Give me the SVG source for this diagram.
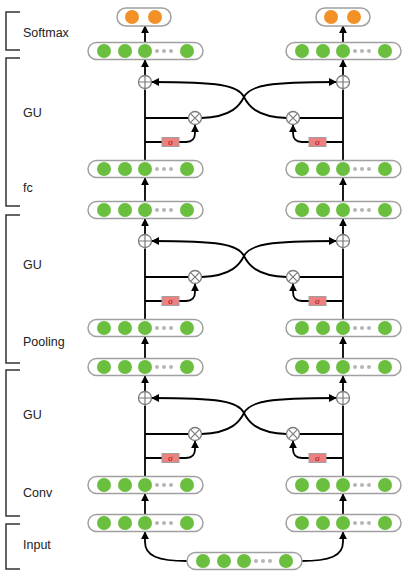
<svg xmlns="http://www.w3.org/2000/svg" xmlns:xlink="http://www.w3.org/1999/xlink" width="407" height="575" viewBox="0 0 407 575">
<style>
.pill{fill:#fff;stroke:#a0a0a0;stroke-width:1.5}
.g{fill:#6abf3f}
.o{fill:#f29126}
.d{fill:#b5b5b5}
.op{fill:#fff;stroke:#7a7a7a;stroke-width:1.3}
.opl{stroke:#7a7a7a;stroke-width:1.2;fill:none}
.sig{fill:#ee8080;stroke:#a0a0a0;stroke-width:1}
.sigt{font-family:"Liberation Serif","DejaVu Serif",serif;font-size:9px;fill:#a01010;text-anchor:middle}
.c{fill:none;stroke:#000;stroke-width:1.8}
.ca{fill:none;stroke:#000;stroke-width:1.8;marker-end:url(#ah)}
.br{fill:none;stroke:#333;stroke-width:1.5}
.lbl{font-family:"Liberation Sans",Arial,sans-serif;font-size:12.5px;fill:#222}
</style>
<defs>
<marker id="ah" viewBox="0 0 10 10" refX="9" refY="5" markerWidth="8" markerHeight="8" markerUnits="userSpaceOnUse" orient="auto">
<path d="M0,0 L10,5 L0,10 z" fill="#000"/>
</marker>
<g id="p5">
<rect class="pill" x="-57" y="-8.5" width="115" height="17" rx="8.5"/>
<circle class="g" cx="-41" cy="0" r="7"/>
<circle class="g" cx="-20" cy="0" r="7"/>
<circle class="g" cx="0" cy="0" r="7"/>
<circle class="d" cx="12" cy="0" r="2"/>
<circle class="d" cx="19" cy="0" r="2"/>
<circle class="d" cx="26" cy="0" r="2"/>
<circle class="g" cx="42" cy="0" r="7"/>
</g>
<g id="p2">
<rect class="pill" x="-27" y="-9" width="54" height="18" rx="9"/>
<circle class="o" cx="-12" cy="0" r="7"/>
<circle class="o" cx="11" cy="0" r="7"/>
</g>
<g id="plus">
<circle class="op" cx="0" cy="0" r="6.5"/>
<path class="opl" d="M-6.5,0 H6.5 M0,-6.5 V6.5"/>
</g>
<g id="times">
<circle class="op" cx="0" cy="0" r="6.5"/>
<path class="opl" d="M-4.6,-4.6 L4.6,4.6 M-4.6,4.6 L4.6,-4.6"/>
</g>
<g id="sigma">
<rect class="sig" x="-8.5" y="-4.5" width="17" height="9"/>
<text class="sigt" x="0" y="3">σ</text>
</g>
</defs>

<g id="labels">
<path class="br" d="M20,12 H6 V50 H20"/>
<path class="br" d="M20,58 H6 V206 H20"/>
<path class="br" d="M20,215 H6 V363 H20"/>
<path class="br" d="M20,370 H6 V516 H20"/>
<path class="br" d="M20,524 H6 V569 H20"/>
<text class="lbl" x="23" y="37">Softmax</text>
<text class="lbl" x="23" y="117">GU</text>
<text class="lbl" x="23" y="192">fc</text>
<text class="lbl" x="23" y="269">GU</text>
<text class="lbl" x="23" y="346">Pooling</text>
<text class="lbl" x="23" y="419">GU</text>
<text class="lbl" x="23" y="497">Conv</text>
<text class="lbl" x="23" y="549">Input</text>
</g>

<g id="connectors">
<!-- softmax arrows -->
<path class="ca" d="M145,42.5 V26"/>
<path class="ca" d="M343,42.5 V26"/>
<!-- block 1 T=51 -->
<path class="c" d="M145,160.5 V89.5 M145,118 H188.5 M145,142 H162"/>
<path class="ca" d="M145,75.5 V60"/>
<path class="ca" d="M179,142 H186 Q195,142 195,133 V125"/>
<path class="ca" d="M201.5,118 C232,117 240,105 244,97 C250,85 270,82 336,82"/>
<path class="c" d="M343,160.5 V89.5 M343,118 H299.5 M343,142 H326"/>
<path class="ca" d="M343,75.5 V60"/>
<path class="ca" d="M309,142 H302 Q293,142 293,133 V125"/>
<path class="ca" d="M286.5,118 C256,117 248,105 244,97 C238,85 218,82 152,82"/>
<!-- inter-block -->
<path class="ca" d="M145,201.5 V178"/>
<path class="ca" d="M343,201.5 V178"/>
<!-- block 2 T=210 -->
<path class="c" d="M145,319.5 V248.5 M145,277 H188.5 M145,301 H162"/>
<path class="ca" d="M145,234.5 V219"/>
<path class="ca" d="M179,301 H186 Q195,301 195,292 V284"/>
<path class="ca" d="M201.5,277 C232,276 240,264 244,256 C250,244 270,241 336,241"/>
<path class="c" d="M343,319.5 V248.5 M343,277 H299.5 M343,301 H326"/>
<path class="ca" d="M343,234.5 V219"/>
<path class="ca" d="M309,301 H302 Q293,301 293,292 V284"/>
<path class="ca" d="M286.5,277 C256,276 248,264 244,256 C238,244 218,241 152,241"/>
<!-- inter-block -->
<path class="ca" d="M145,358.5 V337"/>
<path class="ca" d="M343,358.5 V337"/>
<!-- block 3 T=367 -->
<path class="c" d="M145,476.5 V405.5 M145,434 H188.5 M145,458 H162"/>
<path class="ca" d="M145,391.5 V376"/>
<path class="ca" d="M179,458 H186 Q195,458 195,449 V441"/>
<path class="ca" d="M201.5,434 C232,433 240,421 244,413 C250,401 270,398 336,398"/>
<path class="c" d="M343,476.5 V405.5 M343,434 H299.5 M343,458 H326"/>
<path class="ca" d="M343,391.5 V376"/>
<path class="ca" d="M309,458 H302 Q293,458 293,449 V441"/>
<path class="ca" d="M286.5,434 C256,433 248,421 244,413 C238,401 218,398 152,398"/>
<!-- conv arrows -->
<path class="ca" d="M145,514.5 V494"/>
<path class="ca" d="M343,514.5 V494"/>
<!-- input arrows -->
<path class="ca" d="M187,561 C158,561 145,556 145,542 V532"/>
<path class="ca" d="M301,561 C330,561 343,556 343,542 V532"/>
</g>

<g id="softmax-l"><use xlink:href="#p2" x="144" y="17"/></g>
<g id="softmax-r"><use xlink:href="#p2" x="343" y="17"/></g>

<g id="gu1-out-l"><use xlink:href="#p5" x="145" y="51"/></g>
<g id="gu1-out-r"><use xlink:href="#p5" x="343" y="51"/></g>
<g id="gu1-plus-l"><use xlink:href="#plus" x="145" y="82"/></g>
<g id="gu1-plus-r"><use xlink:href="#plus" x="343" y="82"/></g>
<g id="gu1-times-l"><use xlink:href="#times" x="195" y="118"/></g>
<g id="gu1-times-r"><use xlink:href="#times" x="293" y="118"/></g>
<g id="gu1-sigma-l"><use xlink:href="#sigma" x="170.5" y="142"/></g>
<g id="gu1-sigma-r"><use xlink:href="#sigma" x="317.5" y="142"/></g>
<g id="fc-l"><use xlink:href="#p5" x="145" y="169"/></g>
<g id="fc-r"><use xlink:href="#p5" x="343" y="169"/></g>

<g id="gu2-out-l"><use xlink:href="#p5" x="145" y="210"/></g>
<g id="gu2-out-r"><use xlink:href="#p5" x="343" y="210"/></g>
<g id="gu2-plus-l"><use xlink:href="#plus" x="145" y="241"/></g>
<g id="gu2-plus-r"><use xlink:href="#plus" x="343" y="241"/></g>
<g id="gu2-times-l"><use xlink:href="#times" x="195" y="277"/></g>
<g id="gu2-times-r"><use xlink:href="#times" x="293" y="277"/></g>
<g id="gu2-sigma-l"><use xlink:href="#sigma" x="170.5" y="301"/></g>
<g id="gu2-sigma-r"><use xlink:href="#sigma" x="317.5" y="301"/></g>
<g id="pool-l"><use xlink:href="#p5" x="145" y="328"/></g>
<g id="pool-r"><use xlink:href="#p5" x="343" y="328"/></g>

<g id="gu3-out-l"><use xlink:href="#p5" x="145" y="367"/></g>
<g id="gu3-out-r"><use xlink:href="#p5" x="343" y="367"/></g>
<g id="gu3-plus-l"><use xlink:href="#plus" x="145" y="398"/></g>
<g id="gu3-plus-r"><use xlink:href="#plus" x="343" y="398"/></g>
<g id="gu3-times-l"><use xlink:href="#times" x="195" y="434"/></g>
<g id="gu3-times-r"><use xlink:href="#times" x="293" y="434"/></g>
<g id="gu3-sigma-l"><use xlink:href="#sigma" x="170.5" y="458"/></g>
<g id="gu3-sigma-r"><use xlink:href="#sigma" x="317.5" y="458"/></g>
<g id="conv-l"><use xlink:href="#p5" x="145" y="485"/></g>
<g id="conv-r"><use xlink:href="#p5" x="343" y="485"/></g>

<g id="emb-l"><use xlink:href="#p5" x="145" y="523"/></g>
<g id="emb-r"><use xlink:href="#p5" x="343" y="523"/></g>
<g id="input"><use xlink:href="#p5" x="244" y="561"/></g>
</svg>
